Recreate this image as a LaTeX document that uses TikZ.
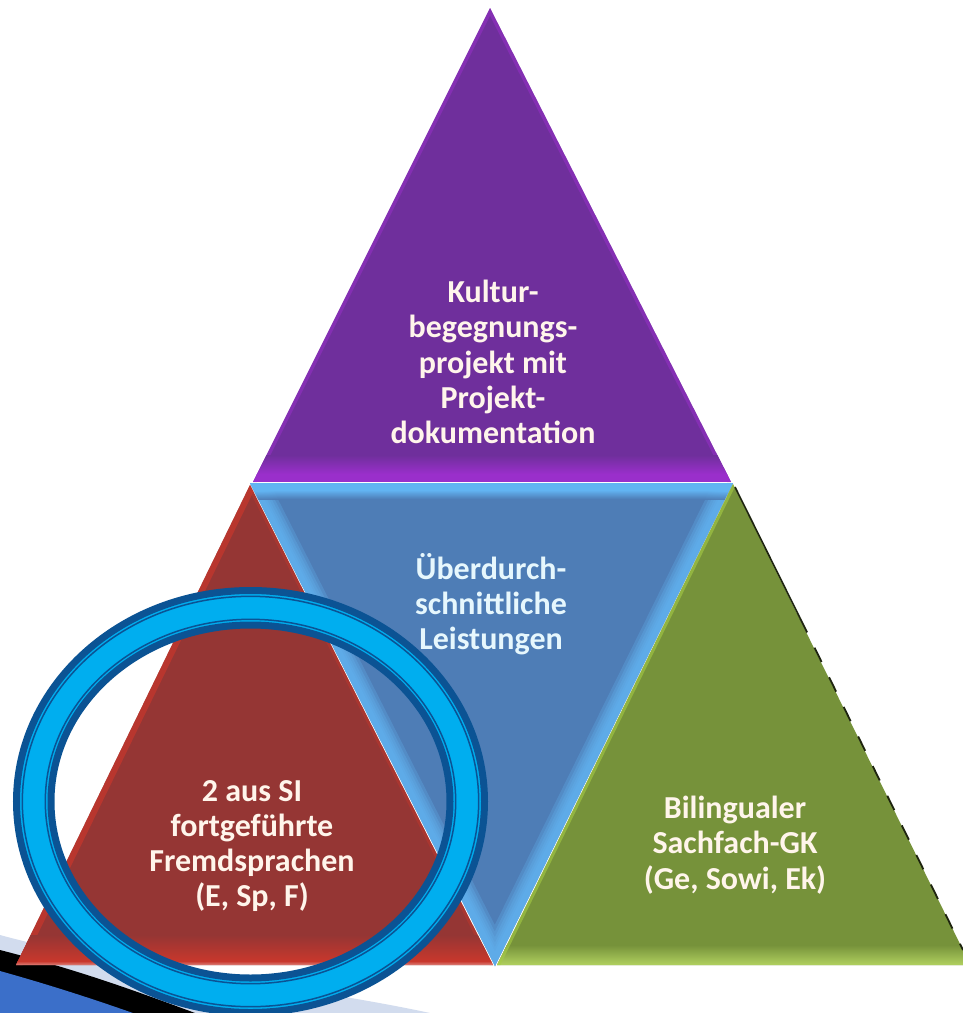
\documentclass[tikz,border=0pt]{standalone}
\usepackage{fontspec}
\setmainfont{Carlito}
\definecolor{purpleMain}{HTML}{6F2F9C}
\definecolor{purpleGlow}{HTML}{9A2FCB}
\definecolor{blueMain}{HTML}{4E7DB6}
\definecolor{blueGlow}{HTML}{62B4F2}
\definecolor{redMain}{HTML}{953634}
\definecolor{redGlow}{HTML}{C8372C}
\definecolor{greenMain}{HTML}{76923A}
\definecolor{greenGlow}{HTML}{A6CC45}
\definecolor{ringCyan}{HTML}{00AEEF}
\definecolor{ringDark}{HTML}{0B5394}
\definecolor{paleBlue}{HTML}{D2DCEE}
\definecolor{slideBlue}{HTML}{3B6FC9}
\tikzset{
  lbl/.style={text=#1, font=\fontsize{32}{35.3}\selectfont\bfseries, align=center, inner sep=0pt},
  lbl/.default={white!92!orange},
  lblblue/.style={lbl=white!90!cyan},
  bluesoft/.style={blueGlow, opacity=.28, line width=#1},
}
\begin{document}
\begin{tikzpicture}[x=1pt,y=-1pt]
\useasboundingbox (0,0) rectangle (963,1013);
\fill[white] (0,0) rectangle (963,1013);
% slide decoration, bottom left
\fill[paleBlue] (0,935) .. controls (120,968) and (300,985) .. (430,1013) -- (0,1013) -- cycle;
\fill[black] (0,950) .. controls (70,968) and (120,985) .. (195,1013) -- (0,1013) -- cycle;
\fill[slideBlue] (0,971) .. controls (50,985) and (90,998) .. (133,1013) -- (0,1013) -- cycle;
% blue triangle
\begin{scope}
\clip (250,483) -- (733,483) -- (495,966) -- cycle;
\fill[blueMain] (240,480) rectangle (740,970);
\foreach \w in {36,30,25,20,16,12}{
  \draw[bluesoft=\w pt] (250,484) -- (495,965) -- (733,484);
}
\shade[top color=blueGlow, bottom color=blueMain, opacity=.9] (240,491) rectangle (740,499);
\fill[blueGlow] (240,483) rectangle (740,491);
\end{scope}
% green triangle
\begin{scope}
\clip (733,484) -- (963,950) -- (963,965) -- (497,965) -- cycle;
\fill[greenMain] (480,480) rectangle (963,966);
\shade[top color=greenMain, bottom color=greenGlow!85!white] (480,945) rectangle (963,966);
\draw[greenGlow, opacity=.6, line width=6pt] (733,484) -- (497,965);
\end{scope}
\draw[black!75!greenMain, line width=1.6pt] (735,487) -- (800,618);
\draw[black!75!greenMain, line width=1.8pt, dash pattern=on 16pt off 17pt] (800,618) -- (963,950);
% red triangle
\begin{scope}
\clip (250,485) -- (16,965) -- (493,965) -- cycle;
\fill[redMain] (10,480) rectangle (500,970);
\draw[redGlow, opacity=.7, line width=12pt] (250,485) -- (16,965);
\draw[redGlow, opacity=.4, line width=6pt] (250,485) -- (493,965);
\shade[top color=redMain, bottom color=redGlow] (10,935) rectangle (500,961);
\shade[top color=redGlow, bottom color=redGlow!55!white] (10,961) rectangle (500,966);
\end{scope}
% purple triangle
\begin{scope}
\clip (490,8) -- (253,482) -- (731,482) -- cycle;
\fill[purpleMain] (240,0) rectangle (740,482);
\draw[purpleGlow, opacity=.5, line width=7pt] (253,482) -- (490,8) -- (731,482);
\shade[top color=purpleMain, bottom color=purpleGlow] (240,455) rectangle (740,474);
\fill[purpleGlow] (240,474) rectangle (740,482);
\end{scope}
% labels
\node[lbl] (kultur) at (493,362) {Kultur-\\begegnungs-\\projekt mit\\Projekt-\\dokumentation};
\node[lblblue] (leistung) at (491,604) {Überdurch-\\schnittliche\\Leistungen};
\node[lbl] (bili) at (735,845) {Bilingualer\\Sachfach-GK\\(Ge, Sowi, Ek)};
\node[lbl] (fremd) at (252,846) {2 aus SI\\fortgeführte\\Fremdsprachen\\(E, Sp, F)};
% ring
\fill[ringCyan, even odd rule] (250.5,801.5) ellipse [x radius=236, y radius=213] (250.5,801.5) ellipse [x radius=197, y radius=174];
\draw[ringDark, line width=7pt] (250.5,801.5) ellipse [x radius=234, y radius=211];
\draw[ringDark, line width=7pt] (250.5,801.5) ellipse [x radius=199.5, y radius=176.5];
\draw[ringDark, line width=1.5pt] (250.5,801.5) ellipse [x radius=228.2, y radius=205.2];
\draw[ringDark, line width=1.5pt] (250.5,801.5) ellipse [x radius=205.2, y radius=182.2];
\end{tikzpicture}
\end{document}
